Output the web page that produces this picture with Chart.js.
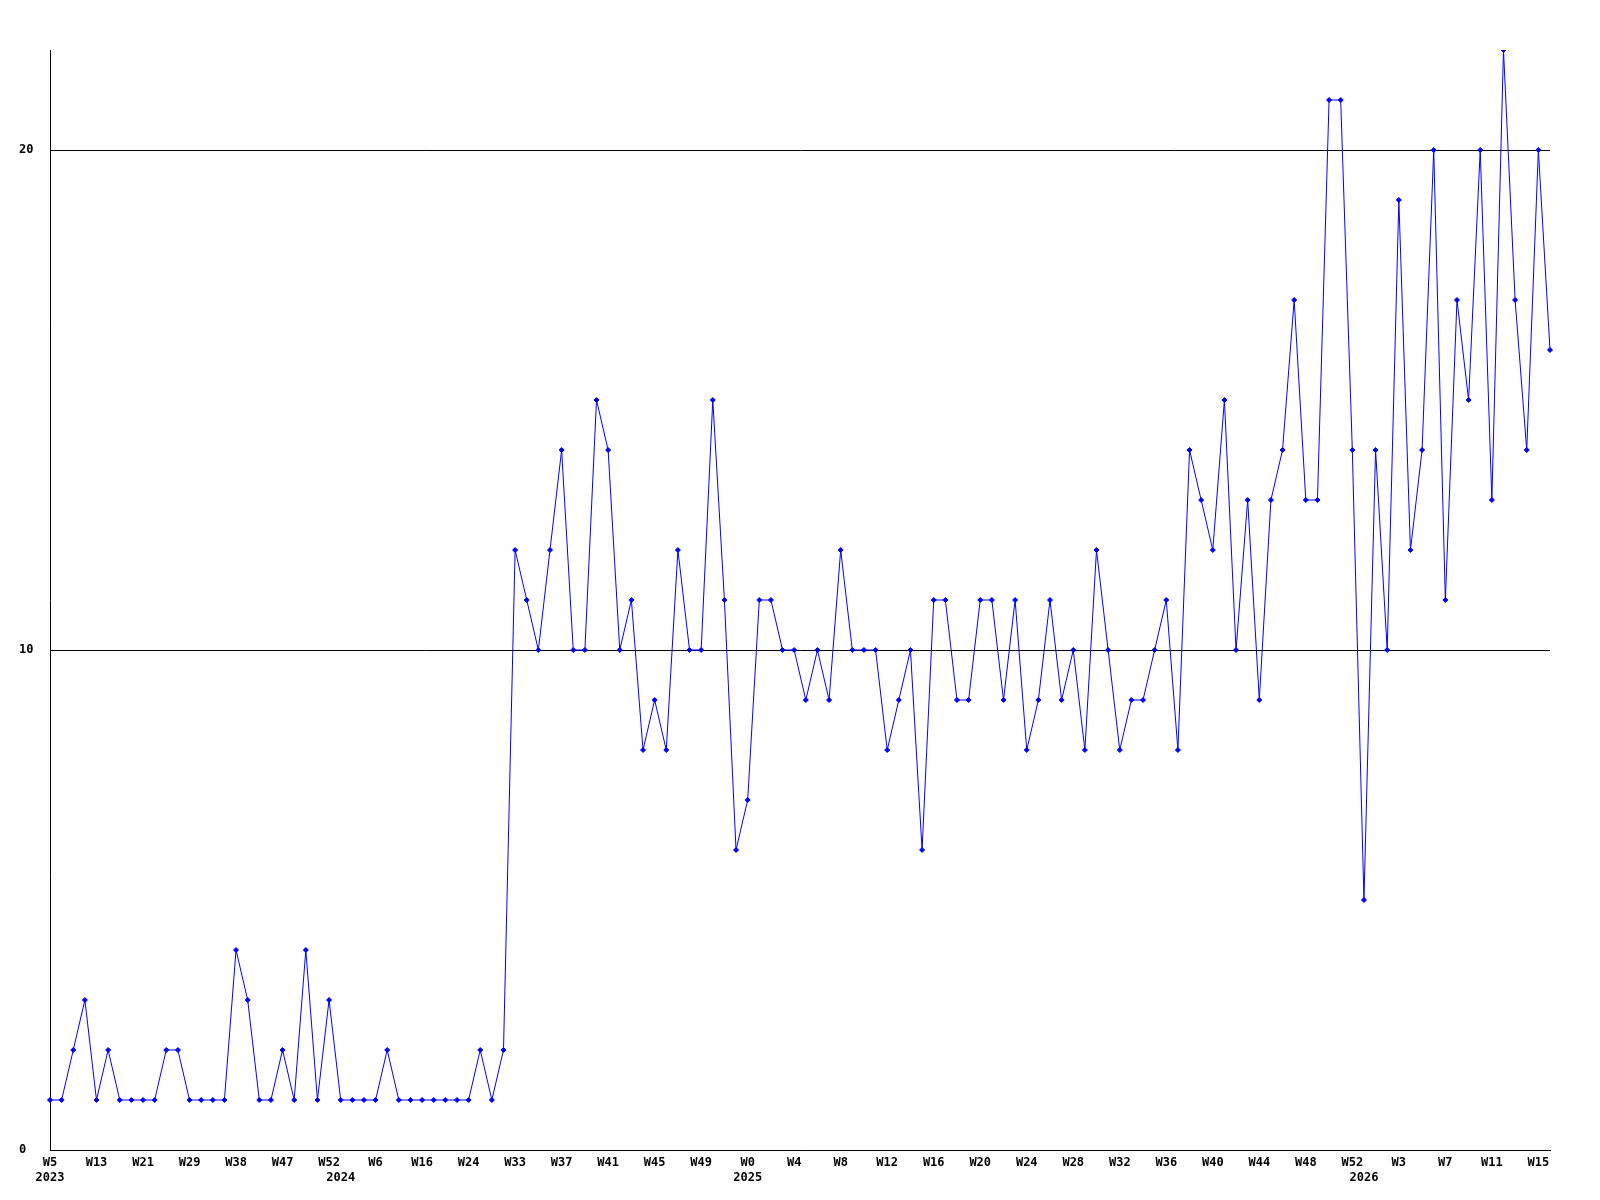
<!DOCTYPE html>
<html>
<head>
<meta charset="utf-8">
<script src="https://cdn.jsdelivr.net/npm/chart.js@4/dist/chart.umd.min.js"></script>
<style>
  html, body { margin: 0; padding: 0; background: #ffffff; }
  #chartArea { width: 1600px; height: 1200px; }
</style>
</head>
<body>
<div id="chartArea"><canvas id="weeklyChart" width="1600" height="1200"></canvas></div>
<script>
// weekly counts, one per point
const values = [
  1, 1, 2, 3, 1, 2, 1, 1, 1, 1,
  2, 2, 1, 1, 1, 1, 4, 3, 1, 1,
  2, 1, 4, 1, 3, 1, 1, 1, 1, 2,
  1, 1, 1, 1, 1, 1, 1, 2, 1, 2,
  12, 11, 10, 12, 14, 10, 10, 15, 14, 10,
  11, 8, 9, 8, 12, 10, 10, 15, 11, 6,
  7, 11, 11, 10, 10, 9, 10, 9, 12, 10,
  10, 10, 8, 9, 10, 6, 11, 11, 9, 9,
  11, 11, 9, 11, 8, 9, 11, 9, 10, 8,
  12, 10, 8, 9, 9, 10, 11, 8, 14, 13,
  12, 15, 10, 13, 9, 13, 14, 17, 13, 13,
  21, 21, 14, 5, 14, 10, 19, 12, 14, 20,
  11, 17, 15, 20, 13, 22, 17, 14, 20, 16
];

// x tick labels, shown on every 4th point
const weekTicks = [
  'W5', 'W13', 'W21', 'W29', 'W38', 'W47', 'W52', 'W6', 'W16', 'W24', 'W33',
  'W37', 'W41', 'W45', 'W49', 'W0', 'W4', 'W8', 'W12', 'W16', 'W20', 'W24',
  'W28', 'W32', 'W36', 'W40', 'W44', 'W48', 'W52', 'W3', 'W7', 'W11', 'W15'
];
const tickEvery = 4;

// first point of each year
const yearPoints = [0, 25, 60, 113];
const yearNames = ['2023', '2024', '2025', '2026'];

const yTicks = [0, 10, 20];
const yMax = 22;

// build category labels (week on line 1, year on line 2)
const labels = values.map((v, i) => {
  const week = i % tickEvery === 0 ? weekTicks[i / tickEvery] : '';
  const y = yearPoints.indexOf(i);
  return y >= 0 ? [week, yearNames[y]] : week;
});

const tickFont = { family: 'DejaVu Sans Mono', size: 12, weight: 'bold', lineHeight: 1.25 };

const ctx = document.getElementById('weeklyChart').getContext('2d');
const weeklyChart = new Chart(ctx, {
  type: 'line',
  data: {
    labels: labels,
    datasets: [
      {
        data: values,
        borderColor: '#0000ff',
        borderWidth: 1,
        backgroundColor: '#0000ff',
        pointBackgroundColor: '#0000ff',
        pointBorderColor: '#0000ff',
        pointStyle: 'rectRot',
        pointRadius: 2.5,
        pointBorderWidth: 1,
        tension: 0,
        fill: false,
      },
    ],
  },
  options: {
    responsive: false,
    animation: false,
    devicePixelRatio: 1,
    layout: {
      padding: { left: 19, right: 50, top: 50, bottom: 0 },
    },
    plugins: {
      legend: { display: false },
      tooltip: { enabled: false },
    },
    scales: {
      x: {
        type: 'category',
        offset: false,
        grid: { display: false, drawTicks: false },
        border: { display: true, color: '#000000', width: 1 },
        ticks: {
          autoSkip: false,
          maxRotation: 0,
          minRotation: 0,
          padding: 5,
          color: '#000000',
          font: tickFont,
        },
        afterFit: (scale) => { scale.height = 50; },
      },
      y: {
        min: 0,
        max: yMax,
        grid: {
          color: '#000000',
          lineWidth: 1,
          drawTicks: false,
        },
        border: { display: true, color: '#000000', width: 1 },
        ticks: {
          crossAlign: 'far',
          padding: 0,
          color: '#000000',
          font: tickFont,
        },
        afterBuildTicks: (scale) => {
          scale.ticks = yTicks.map(v => ({ value: v }));
        },
        afterFit: (scale) => { scale.width = 31; },
      },
    },
  },
});
</script>
</body>
</html>
